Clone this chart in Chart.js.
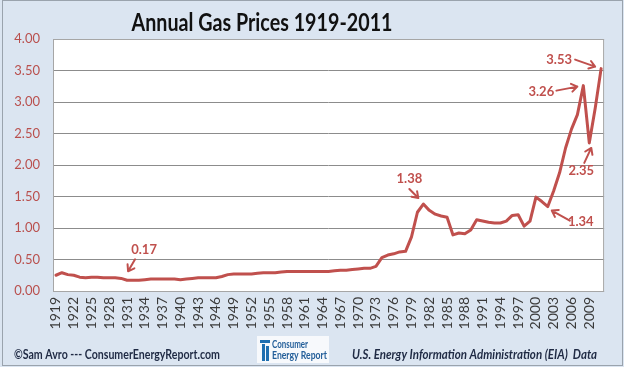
<!DOCTYPE html>
<html>
<head>
<meta charset="utf-8">
<script src="https://cdn.jsdelivr.net/npm/chart.js@4"></script>
<style>
html,body{margin:0;padding:0;background:#dbe5f1;}
canvas{display:block;}
</style>
</head>
<body>
<canvas id="c" width="624" height="367"></canvas>
<script>
const years = ['1919','1920','1921','1922','1923','1924','1925','1926','1927','1928','1929','1930','1931','1932','1933','1934','1935','1936','1937','1938','1939','1940','1941','1942','1943','1944','1945','1946','1947','1948','1949','1950','1951','1952','1953','1954','1955','1956','1957','1958','1959','1960','1961','1962','1963','1964','1965','1966','1967','1968','1969','1970','1971','1972','1973','1974','1975','1976','1977','1978','1979','1980','1981','1982','1983','1984','1985','1986','1987','1988','1989','1990','1991','1992','1993','1994','1995','1996','1997','1998','1999','2000','2001','2002','2003','2004','2005','2006','2007','2008','2009','2010','2011'];
const prices = [0.25,0.29,0.26,0.25,0.22,0.21,0.22,0.22,0.21,0.21,0.21,0.20,0.17,0.17,0.17,0.18,0.19,0.19,0.19,0.19,0.19,0.18,0.19,0.20,0.21,0.21,0.21,0.21,0.23,0.26,0.27,0.27,0.27,0.27,0.28,0.29,0.29,0.29,0.30,0.31,0.31,0.31,0.31,0.31,0.31,0.31,0.31,0.32,0.33,0.33,0.34,0.35,0.36,0.36,0.39,0.53,0.57,0.59,0.62,0.63,0.86,1.25,1.38,1.28,1.22,1.19,1.17,0.89,0.92,0.91,0.97,1.13,1.11,1.09,1.08,1.08,1.11,1.20,1.21,1.03,1.11,1.49,1.42,1.34,1.59,1.88,2.27,2.57,2.80,3.26,2.35,2.90,3.53];
const yTicks = [0,0.5,1,1.5,2,2.5,3,3.5,4];
const labelStep = 3;
const titleText = 'Annual Gas Prices 1919-2011';
const creditText = '\u00A9Sam Avro --- ConsumerEnergyReport.com';
const sourceText = 'U.S. Energy Information Administration (EIA)  Data';
// annotated points: year label, text, text offset, arrow tail & head offsets (relative to the data point)
const notes = [
  {year:'1931', text:'0.17', tx:17, ty:-30, ax:8, ay:-21, hx:1, hy:-9},
  {year:'1981', text:'1.38', tx:-14, ty:-25, ax:-14, ay:-15, hx:-5, hy:-6},
  {year:'2002', text:'1.34', tx:33, ty:15, ax:22, ay:14, hx:4, hy:4},
  {year:'2009', text:'2.35', tx:-8, ty:28, ax:-5, ay:20, hx:2, hy:5},
  {year:'2008', text:'3.26', tx:-42, ty:6, ax:-27, ay:5, hx:-6, hy:1},
  {year:'2011', text:'3.53', tx:-42, ty:-9, ax:-26, ay:-9, hx:-6, hy:-2}
];
const red = '#c0504d';

function fitText(ctx, txt, x, y, width, align) {
  const w = ctx.measureText(txt).width;
  const s = width / w;
  ctx.save();
  let x0 = x;
  if (align === 'center') x0 = x - width / 2;
  ctx.translate(x0, y);
  ctx.scale(s, 1);
  ctx.textAlign = 'left';
  ctx.fillText(txt, 0, 0);
  ctx.restore();
}

function arrow(ctx, x1, y1, x2, y2) {
  const a = Math.atan2(y2 - y1, x2 - x1);
  const L = 7;
  ctx.beginPath();
  ctx.moveTo(x1, y1);
  ctx.lineTo(x2, y2);
  ctx.moveTo(x2 - L * Math.cos(a - 0.6), y2 - L * Math.sin(a - 0.6));
  ctx.lineTo(x2, y2);
  ctx.lineTo(x2 - L * Math.cos(a + 0.6), y2 - L * Math.sin(a + 0.6));
  ctx.stroke();
}

const decor = {
  id: 'decor',
  beforeDraw(chart) {
    const ctx = chart.ctx, a = chart.chartArea;
    ctx.save();
    ctx.fillStyle = '#dbe5f1';
    ctx.fillRect(0, 0, chart.width, chart.height);
    ctx.strokeStyle = '#9aa3ad';
    ctx.lineWidth = 1;
    ctx.strokeRect(2.5, 0.5, chart.width - 4, chart.height - 2);
    ctx.fillStyle = '#ffffff';
    ctx.fillRect(a.left, a.top, a.right - a.left, a.bottom - a.top);
    ctx.restore();
  },
  afterDraw(chart) {
    const ctx = chart.ctx, a = chart.chartArea;
    const xs = chart.scales.x, ys = chart.scales.y;
    ctx.save();
    ctx.strokeStyle = '#a6a6a6';
    ctx.lineWidth = 1;
    ctx.strokeRect(a.left + 0.5, a.top + 0.5, a.right - a.left - 1, a.bottom - a.top);
    // title
    ctx.fillStyle = '#111111';
    ctx.font = 'bold 25px Lato';
    ctx.textBaseline = 'alphabetic';
    fitText(ctx, titleText, 262, 31, 261, 'center');
    // annotations
    ctx.strokeStyle = red;
    ctx.fillStyle = red;
    ctx.lineWidth = 2;
    ctx.lineCap = 'round';
    ctx.lineJoin = 'round';
    ctx.font = 'bold 13px Lato';
    ctx.textAlign = 'center';
    ctx.textBaseline = 'middle';
    notes.forEach(n => {
      const i = years.indexOf(n.year);
      const px = xs.getPixelForValue(i);
      const py = ys.getPixelForValue(prices[i]);
      ctx.fillText(n.text, px + n.tx, py + n.ty);
      arrow(ctx, px + n.ax, py + n.ay, px + n.hx, py + n.hy);
    });
    // footer
    ctx.textBaseline = 'alphabetic';
    ctx.fillStyle = '#1f2a44';
    ctx.font = 'bold 13px Lato';
    fitText(ctx, creditText, 14, 359, 206, 'left');
    ctx.font = 'italic bold 13px Lato';
    fitText(ctx, sourceText, 352, 359, 245, 'left');
    // logo
    ctx.fillStyle = '#f7f9fc';
    ctx.fillRect(257, 336, 72, 27);
    ctx.fillStyle = '#1f6fb0';
    ctx.fillRect(260, 340, 10, 3);
    ctx.fillRect(262, 344, 3, 17);
    ctx.fillRect(266, 346, 3, 15);
    ctx.fillStyle = '#245f9a';
    ctx.font = 'bold 11px Lato';
    fitText(ctx, 'Consumer', 272, 348, 36, 'left');
    fitText(ctx, 'Energy Report', 272, 359, 55, 'left');
    ctx.restore();
  }
};

new Chart(document.getElementById('c'), {
  type: 'line',
  data: {
    labels: years,
    datasets: [{
      data: prices,
      borderColor: red,
      borderWidth: 3,
      pointRadius: 0,
      tension: 0,
      borderJoinStyle: 'round',
      borderCapStyle: 'round',
      fill: false
    }]
  },
  options: {
    responsive: false,
    devicePixelRatio: 1,
    animation: false,
    layout: { padding: { top: 39, right: 14, bottom: 31, left: 0 } },
    plugins: { legend: { display: false }, tooltip: { enabled: false }, title: { display: false } },
    scales: {
      x: {
        type: 'category',
        offset: true,
        grid: { display: false, drawTicks: false },
        border: { display: false },
        afterFit(s) { s.height = 45; },
        ticks: {
          autoSkip: false,
          minRotation: 90,
          maxRotation: 90,
          padding: 6,
          color: '#3a3a3a',
          font: { family: 'Lato', size: 14 },
          callback(v, i) { return i % labelStep === 0 ? years[i] : ''; }
        }
      },
      y: {
        min: yTicks[0],
        max: yTicks[yTicks.length - 1],
        afterFit(s) { s.width = 53; },
        afterBuildTicks(s) { s.ticks = yTicks.map(v => ({ value: v })); },
        grid: { color: '#8c8c8c', lineWidth: 1, drawTicks: false },
        border: { display: false },
        ticks: {
          padding: 13,
          color: '#b9504e',
          font: { family: 'Lato', size: 13 },
          callback(v) { return Number(v).toFixed(2); }
        }
      }
    }
  },
  plugins: [decor]
});
</script>
</body>
</html>
